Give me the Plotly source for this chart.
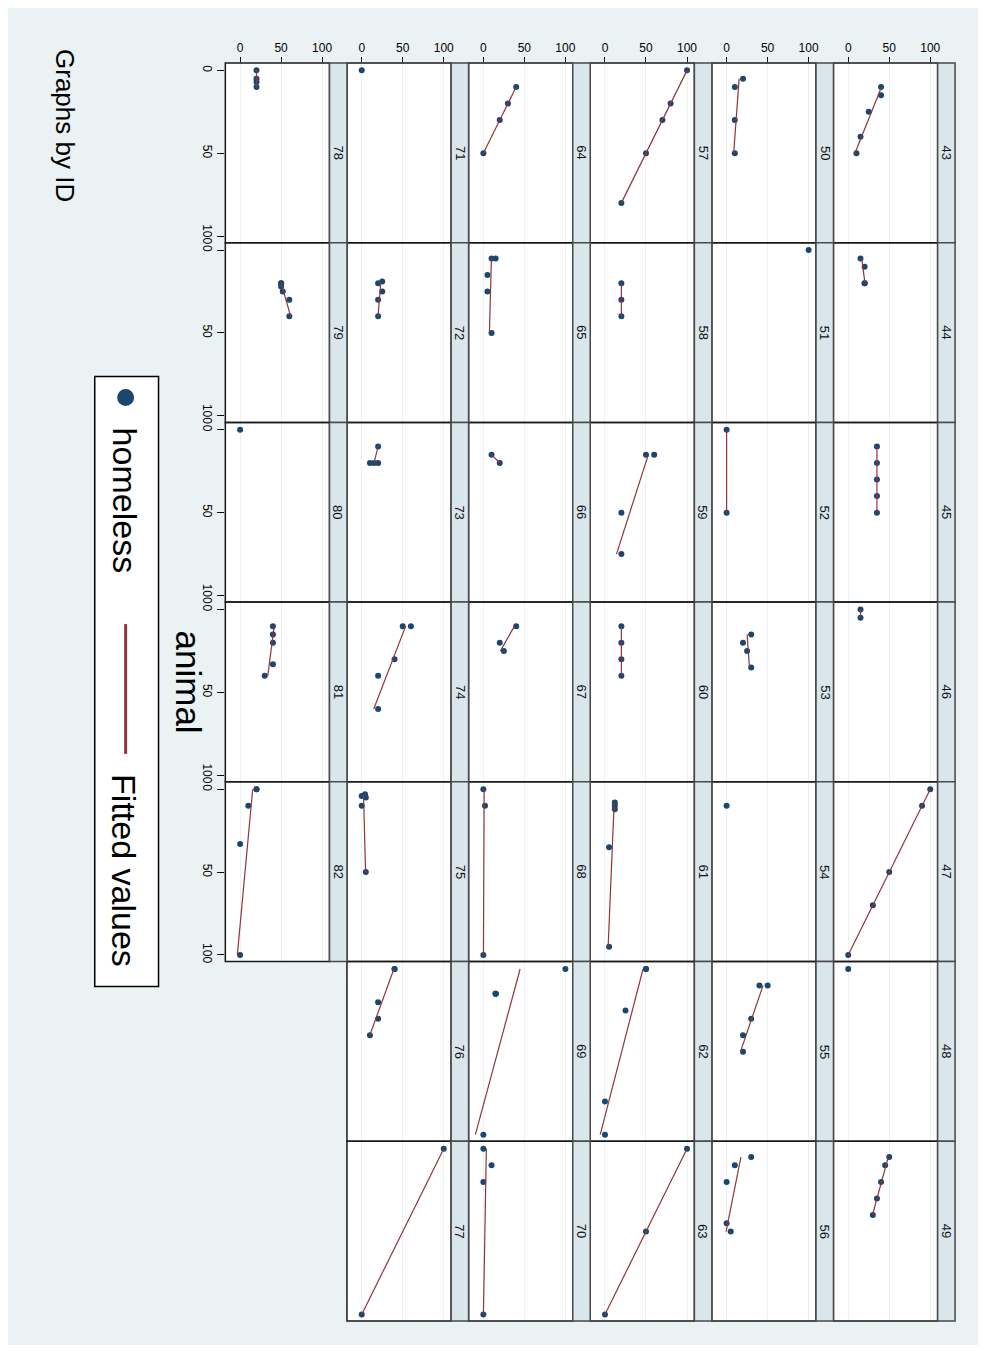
import numpy as np
import plotly.graph_objects as go

# ---------------- data ----------------
ids = list(range(43, 83))

animal = [
    [10, 15, 25, 40, 50],        # 43
    [5, 10, 20, 20],             # 44
    [10, 20, 30, 40, 50],        # 45
    [0, 5],                      # 46
    [0, 10, 50, 70, 100],        # 47
    [0],                         # 48
    [5, 10, 20, 30, 40],         # 49
    [5, 10, 30, 50],             # 50
    [0],                         # 51
    [0, 50],                     # 52
    [15, 20, 25, 35],            # 53
    [10],                        # 54
    [10, 10, 30, 40, 50],        # 55
    [5, 10, 20, 45, 50],         # 56
    [0, 20, 30, 50, 80],         # 57
    [20, 30, 40],                # 58
    [15, 15, 50, 75],            # 59
    [10, 20, 30, 40],            # 60
    [8, 10, 12, 35, 95],         # 61
    [0, 0, 25, 80, 100],         # 62
    [0, 50, 100],                # 63
    [10, 20, 30, 50],            # 64
    [5, 5, 15, 25, 50],          # 65
    [15, 20],                    # 66
    [10, 20, 25],                # 67
    [0, 10, 100],                # 68
    [0, 15, 15, 15, 100],        # 69
    [0, 10, 20, 100],            # 70
    [0],                         # 71
    [19, 20, 25, 30, 40],        # 72
    [10, 20, 20, 20],            # 73
    [10, 10, 30, 40, 60],        # 74
    [3, 4, 5, 10, 50],           # 75
    [0, 0, 20, 30, 40],          # 76
    [0, 100],                    # 77
    [0, 5, 7, 10],               # 78
    [20, 20, 22, 25, 30, 40],    # 79
    [0],                         # 80
    [10, 15, 20, 33, 40],        # 81
    [0, 0, 10, 33, 100],         # 82
]

homeless = [
    [40, 40, 25, 15, 10],        # 43
    [15, 20, 20, 20],            # 44
    [35, 35, 35, 35, 35],        # 45
    [15, 15],                    # 46
    [100, 90, 50, 30, 0],        # 47
    [0],                         # 48
    [50, 45, 40, 35, 30],        # 49
    [20, 10, 10, 10],            # 50
    [100],                       # 51
    [0, 0],                      # 52
    [30, 20, 25, 30],            # 53
    [0],                         # 54
    [40, 50, 30, 20, 20],        # 55
    [30, 10, 0, 0, 5],           # 56
    [100, 80, 70, 50, 20],       # 57
    [20, 20, 20],                # 58
    [50, 60, 20, 20],            # 59
    [20, 20, 20, 20],            # 60
    [12, 12, 12, 5, 5],          # 61
    [50, 50, 25, 0, 0],          # 62
    [100, 50, 0],                # 63
    [40, 30, 20, 0],             # 64
    [10, 15, 5, 5, 10],          # 65
    [10, 20],                    # 66
    [40, 20, 25],                # 67
    [0, 2, 0],                   # 68
    [100, 15, 15, 15, 0],        # 69
    [0, 10, 0, 0],               # 70
    [0],                         # 71
    [25, 20, 25, 20, 20],        # 72
    [20, 10, 15, 20],            # 73
    [50, 60, 40, 20, 20],        # 74
    [4, 0, 5, 0, 5],             # 75
    [40, 40, 20, 20, 10],        # 76
    [100, 0],                    # 77
    [20, 20, 20, 20],            # 78
    [50, 50, 50, 52, 60, 60],    # 79
    [0],                         # 80
    [40, 40, 40, 40, 30],        # 81
    [20, 20, 10, 0, 0],          # 82
]

tick_vals = [0, 50, 100]
legend_labels = ["homeless", "Fitted values"]

# ---------------- styling / geometry ----------------
OFF = 8                      # page margin of the browser body
W, H = 986 - OFF, 1353 - 2 * OFF
NAVY = "#1a476f"
MAROON = "#90353b"
BG = "#eaf2f3"
STRIP = "#d9e6eb"
FONT = "Liberation Sans, Arial, sans-serif"

COL_X0, COL_STEP, PLOT_W, STRIP_W = 226, 122, 104.5, 17.5
ROW_Y0, ROW_H = 63, 180


def px(x):
    return (x - OFF) / W


def py(y):
    return 1 - (y - OFF) / H


fig = go.Figure()
shapes = []
annotations = []
layout_axes = {}

for k, pid in enumerate(ids):
    orig_row = (pid - 43) // 7
    orig_col = (pid - 43) % 7
    c = 5 - orig_row          # image column (left -> right)
    r = orig_col              # image row (top -> bottom)
    x0 = COL_X0 + COL_STEP * c
    top = ROW_Y0 + ROW_H * r
    n = k + 1
    xname = "xaxis" if n == 1 else f"xaxis{n}"
    yname = "yaxis" if n == 1 else f"yaxis{n}"
    xref = "x" if n == 1 else f"x{n}"
    yref = "y" if n == 1 else f"y{n}"

    layout_axes[xname] = dict(
        domain=[px(x0), px(x0 + PLOT_W)], range=[-18, 109], anchor=yref,
        tickmode="array", tickvals=tick_vals, showgrid=True, gridcolor=BG,
        gridwidth=1.2, zeroline=False, showline=False, side="top",
        showticklabels=(r == 0), ticks="outside" if r == 0 else "",
        ticklen=5, tickwidth=1, tickcolor="#000",
        tickfont=dict(size=12, color="#000", family=FONT), fixedrange=True,
    )
    layout_axes[yname] = dict(
        domain=[py(top + ROW_H), py(top)], range=[104, -4.5], anchor=xref,
        tickmode="array", tickvals=tick_vals, showgrid=False, zeroline=False,
        showline=False, showticklabels=(c == 0),
        ticks="outside" if c == 0 else "", ticklen=7, tickwidth=1,
        tickcolor="#000", tickangle=90,
        tickfont=dict(size=12, color="#000", family=FONT), fixedrange=True,
    )

    a = animal[k]
    h = homeless[k]
    fig.add_trace(go.Scatter(
        x=h, y=a, mode="markers", xaxis=xref, yaxis=yref, showlegend=False,
        marker=dict(color=NAVY, size=6, line=dict(width=0)), cliponaxis=False,
        name=legend_labels[0],
    ))
    if len(set(a)) >= 2:
        slope, icpt = np.polyfit(np.array(a, float), np.array(h, float), 1)
        ax = [min(a), max(a)]
        fig.add_trace(go.Scatter(
            x=[icpt + slope * v for v in ax], y=ax, mode="lines",
            xaxis=xref, yaxis=yref, showlegend=False,
            line=dict(color=MAROON, width=1.2), name=legend_labels[1],
        ))

    # panel outline
    shapes.append(dict(type="rect", xref="paper", yref="paper",
                       x0=px(x0), x1=px(x0 + PLOT_W), y0=py(top + ROW_H), y1=py(top),
                       line=dict(color="#1a1a1a", width=1.5), layer="above"))
    # strip
    shapes.append(dict(type="rect", xref="paper", yref="paper",
                       x0=px(x0 + PLOT_W), x1=px(x0 + PLOT_W + STRIP_W),
                       y0=py(top + ROW_H), y1=py(top),
                       fillcolor=STRIP, line=dict(color="#4a4a4a", width=1.5),
                       layer="above"))
    annotations.append(dict(text=str(pid), xref="paper", yref="paper",
                            x=px(x0 + PLOT_W + STRIP_W / 2), y=py(top + ROW_H / 2),
                            xanchor="center", yanchor="middle", textangle=90,
                            showarrow=False, font=dict(size=13, color="#111", family=FONT)))

# legend (rotated, drawn by hand)
shapes.append(dict(type="rect", xref="paper", yref="paper", x0=px(95), x1=px(159),
                   y0=py(988), y1=py(377), fillcolor="white",
                   line=dict(color="#000", width=1.5)))
shapes.append(dict(type="circle", xref="paper", yref="paper", x0=px(117.5), x1=px(134.5),
                   y0=py(406.5), y1=py(389.5), fillcolor=NAVY, line=dict(width=0)))
shapes.append(dict(type="line", xref="paper", yref="paper", x0=px(126), x1=px(126),
                   y0=py(755), y1=py(625), line=dict(color=MAROON, width=3)))
annotations.append(dict(text=legend_labels[0], xref="paper", yref="paper", x=px(125), y=py(501),
                        xanchor="center", yanchor="middle", textangle=90, showarrow=False,
                        font=dict(size=34, color="#000", family=FONT)))
annotations.append(dict(text=legend_labels[1], xref="paper", yref="paper", x=px(125), y=py(872),
                        xanchor="center", yanchor="middle", textangle=90, showarrow=False,
                        font=dict(size=34, color="#000", family=FONT)))

# axis title and note
annotations.append(dict(text="animal", xref="paper", yref="paper", x=px(189), y=py(683),
                        xanchor="center", yanchor="middle", textangle=90, showarrow=False,
                        font=dict(size=35, color="#000", family=FONT)))
annotations.append(dict(text="Graphs by ID", xref="paper", yref="paper", x=px(65), y=py(126),
                        xanchor="center", yanchor="middle", textangle=90, showarrow=False,
                        font=dict(size=26, color="#000", family=FONT)))

fig.update_layout(
    width=W, height=H, margin=dict(l=0, r=0, t=0, b=0),
    paper_bgcolor=BG, plot_bgcolor="white", showlegend=False,
    font=dict(family=FONT, color="#000"),
    shapes=shapes, annotations=annotations, **layout_axes,
)

fig.write_html("out.html")
